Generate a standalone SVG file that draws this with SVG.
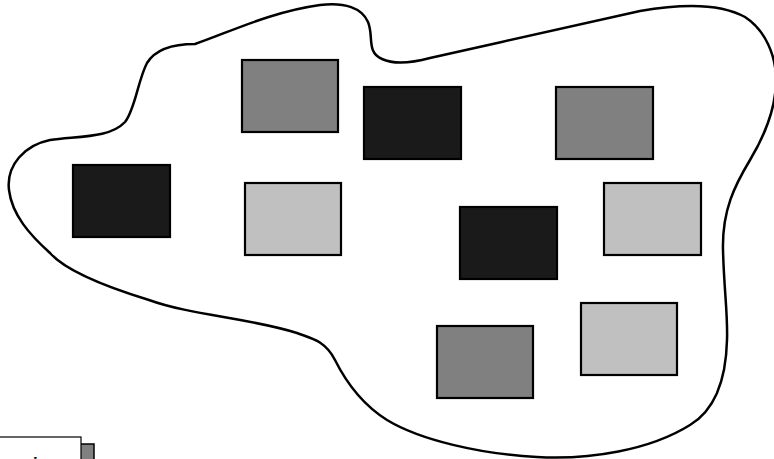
<svg xmlns="http://www.w3.org/2000/svg" width="774" height="459" viewBox="0 0 774 459">
<style>
.blob{fill:none;stroke:#000;stroke-width:2.5}
.r{stroke:#000;stroke-width:2.2}
.dark{fill:#1a1a1a}
.mid{fill:#808080}
.light{fill:#c0c0c0}
</style>
<rect width="774" height="459" fill="#fff"/>
<g id="region">
<path class="blob" d="M195,44 C230,32 270,12 320,5 C345,2 362,8 368,22 C374,36 366,52 382,59 C395,65 415,62 430,58 C500,42 580,25 640,11 C680,4 720,3 745,17 C765,30 776,55 776,80 C776,110 762,140 750,160 C735,185 722,210 723,250 C724,290 728,315 727,340 C726,380 715,410 690,425 C650,450 590,460 537,457 C480,454 420,440 387,420 C360,403 345,380 335,360 C325,340 310,338 297,333 C250,318 190,315 149,300 C100,285 65,270 50,253 C30,235 12,215 9,190 C6,165 25,145 50,140 C80,136 110,138 125,122 C135,110 138,80 147,63 C155,50 170,44 195,44 Z"/>
</g>
<g id="n1"><rect class="r mid" x="242" y="60" width="96" height="72"/></g>
<g id="n2"><rect class="r dark" x="364" y="87" width="97" height="72"/></g>
<g id="n3"><rect class="r mid" x="556" y="87" width="97" height="72"/></g>
<g id="n4"><rect class="r dark" x="73" y="165" width="97" height="72"/></g>
<g id="n5"><rect class="r light" x="245" y="183" width="96" height="72"/></g>
<g id="n6"><rect class="r light" x="604" y="183" width="97" height="72"/></g>
<g id="n7"><rect class="r dark" x="460" y="207" width="97" height="72"/></g>
<g id="n8"><rect class="r light" x="581" y="303" width="96" height="72"/></g>
<g id="n9"><rect class="r mid" x="437" y="326" width="96" height="72"/></g>
<g id="legend">
<rect x="-10" y="444" width="104" height="40" fill="#808080" stroke="#000" stroke-width="1.5"/>
<rect x="-20" y="437" width="101" height="40" fill="#fff" stroke="#000" stroke-width="1.2"/>
<text x="33" y="469" font-family="Liberation Sans, Arial, sans-serif" font-size="17" font-weight="bold" fill="#000">i</text>
</g>
</svg>
